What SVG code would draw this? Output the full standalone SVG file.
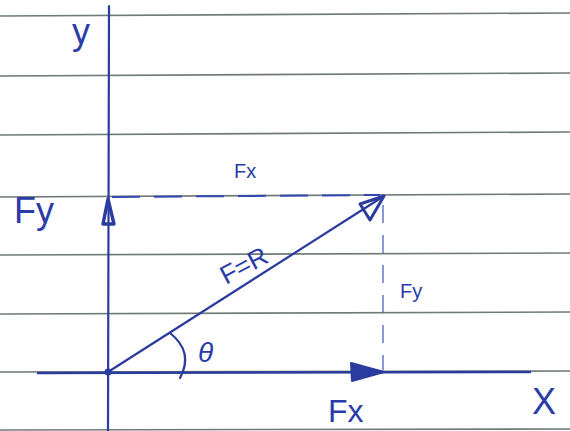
<svg xmlns="http://www.w3.org/2000/svg" width="570" height="431" viewBox="0 0 570 431">
<style>
.rule{stroke:#6f7a78;stroke-width:1.6;fill:none}
.ink{stroke:#2a3c9e;fill:none;stroke-linecap:round}
.dash{stroke:#3348b0;fill:none;stroke-width:2;stroke-dasharray:28 14}
.dash2{stroke:#4a62c0;fill:none;stroke-width:1.3;stroke-dasharray:18 12}
.lbl{font-family:"Liberation Sans",Arial,sans-serif;fill:#2a3ca8}
</style>
<rect width="570" height="431" fill="#ffffff"/>
<g id="paper">
<line class="rule" x1="0" y1="16" x2="570" y2="13"/>
<line class="rule" x1="0" y1="76" x2="570" y2="73"/>
<line class="rule" x1="0" y1="135" x2="570" y2="132"/>
<line class="rule" x1="0" y1="197" x2="570" y2="194"/>
<line class="rule" x1="0" y1="255" x2="570" y2="253"/>
<line class="rule" x1="0" y1="314" x2="570" y2="312"/>
<line class="rule" x1="0" y1="372" x2="570" y2="371"/>
<line class="rule" x1="0" y1="430" x2="570" y2="429"/>
</g>
<g id="connectors">
<line id="y-axis" class="ink" x1="109" y1="6" x2="108" y2="431" stroke-width="2.2"/>
<line id="x-axis" class="ink" x1="38" y1="373" x2="530" y2="372" stroke-width="2.4"/>
<line id="resultant" class="ink" x1="108" y1="372" x2="384" y2="196" stroke-width="2.2"/>
<line id="dash-h" class="dash" x1="112" y1="197" x2="380" y2="195"/>
<line id="dash-v" class="dash2" x1="383" y1="205" x2="383" y2="370"/>
<polygon id="head-r" points="384,196 360,204 370,220" fill="none" stroke="#2a3c9e" stroke-width="3" stroke-linejoin="round"/>
<polygon id="head-fy" points="108,199 103,224 114,224" fill="none" stroke="#2a3c9e" stroke-width="3.4" stroke-linejoin="round"/>
<polygon id="head-fx" points="384,372 351,363 352,381" fill="#2a3c9e" stroke="#2a3c9e" stroke-width="2" stroke-linejoin="round"/>
<circle cx="108" cy="372" r="3.5" fill="#2a3c9e"/>
<path id="angle-arc" class="ink" stroke-width="2.2" d="M170,333 Q194,352 180,378"/>
</g>
<g id="labels">
<text class="lbl" x="72" y="44" font-size="36">y</text>
<text class="lbl" x="14" y="223" font-size="36">Fy</text>
<text class="lbl" x="234" y="178" font-size="20">Fx</text>
<text class="lbl" x="226" y="285" font-size="26" transform="rotate(-28 226 285)">F=R</text>
<text class="lbl" x="400" y="298" font-size="20">Fy</text>
<text class="lbl" x="198" y="362" font-size="28" font-style="italic">θ</text>
<text class="lbl" x="328" y="422" font-size="32">Fx</text>
<text class="lbl" x="532" y="414" font-size="36">X</text>
</g>
</svg>
